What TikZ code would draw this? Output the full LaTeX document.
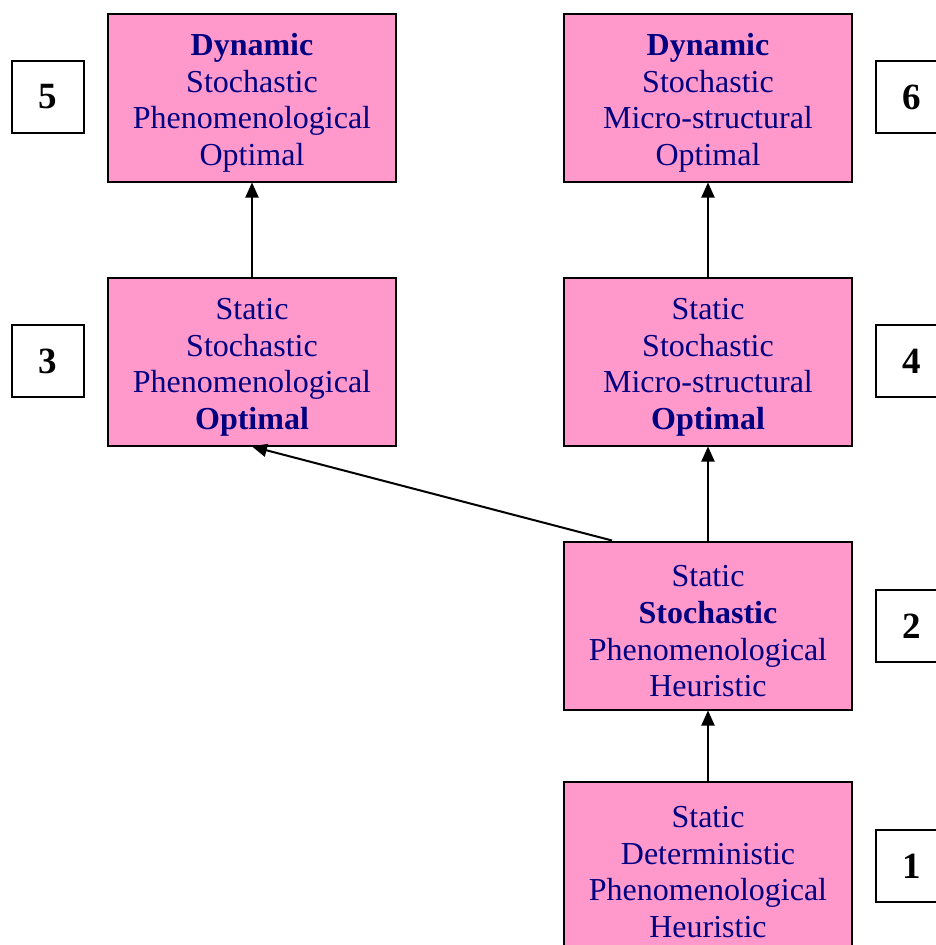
\documentclass[tikz,border=0pt]{standalone}
\usepackage{fontspec}
\setmainfont{Liberation Serif}
\usetikzlibrary{arrows.meta}
\definecolor{boxpink}{HTML}{FF99CC}
\definecolor{boxnavy}{HTML}{000080}
\newcommand{\lift}{\rule{0pt}{33pt}}

\begin{document}
\begin{tikzpicture}[x=1pt,y=-1pt,
	level/.style={draw,line width=2pt,fill=boxpink,text=boxnavy,align=center,
		minimum width=288pt,minimum height=168pt,inner sep=0pt,
		font=\fontsize{32}{36.7}\selectfont},
	rank/.style={draw,line width=2pt,fill=white,minimum size=72pt,inner sep=0pt,
		font=\fontsize{37}{40}\selectfont\bfseries},
	up/.style={-{Triangle[length=15pt,width=13pt]},line width=2pt}]
\useasboundingbox (0,0) rectangle (936,945);
\clip (0,0) rectangle (936,945);
% the six models
\node[level] (m5) at (252,97.5) {\lift\textbf{Dynamic}\\Stochastic\\Phenomenological\\Optimal};
\node[level] (m6) at (708,97.5) {\lift\textbf{Dynamic}\\Stochastic\\Micro-structural\\Optimal};
\node[level] (m3) at (252,361.5) {\lift Static\\Stochastic\\Phenomenological\\\textbf{Optimal}};
\node[level] (m4) at (708,361.5) {\lift Static\\Stochastic\\Micro-structural\\\textbf{Optimal}};
\node[level] (m2) at (708,625.5) {\lift Static\\\textbf{Stochastic}\\Phenomenological\\Heuristic};
\node[level] (m1) at (708,866) {\lift Static\\Deterministic\\Phenomenological\\Heuristic};
% numbers
\node[rank] (n5) at (48,97) {5};
\node[rank] (n6) at (912,97) {6};
\node[rank] (n3) at (48,361) {3};
\node[rank] (n4) at (912,361) {4};
\node[rank] (n2) at (912,626) {2};
\node[rank] (n1) at (912,866) {1};
% steps
\draw[up] (m1) -- (m2);
\draw[up] (m2) -- (m4);
\draw[up] ([xshift=-96pt]m2.north) -- (m3.south);
\draw[up] (m3) -- (m5);
\draw[up] (m4) -- (m6);
\end{tikzpicture}
\end{document}
